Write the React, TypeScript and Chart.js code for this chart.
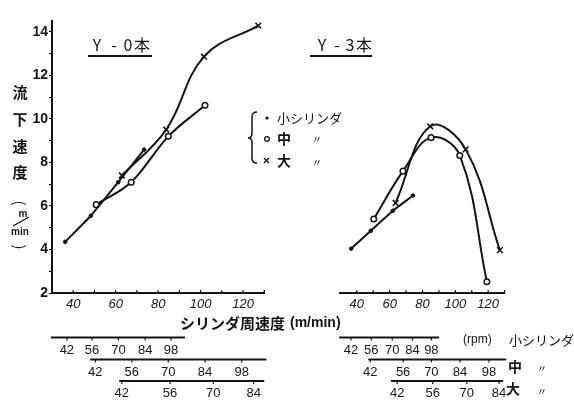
import React, { useEffect, useRef } from 'react';
import { Chart, registerables } from 'chart.js';
Chart.register(...registerables);

// ---- axes ----
const speedMin = 30;
const speedMax = 130;
const flowMin = 2;
const flowMax = 14.5;
const speedLabelValues = [40, 60, 80, 100, 120];
const flowTickValues = [2, 3, 4, 5, 6, 7, 8, 9, 10, 11, 12, 13, 14];
const flowLabelValues = [2, 4, 6, 8, 10, 12, 14];

// ---- Y-0本 panel (m/min -> m/min) ----
const y0SmallSpeed = [36.2, 48.3, 61.2, 73.4];
const y0SmallFlow = [4.35, 5.55, 7.09, 8.59];
const y0MediumSpeed = [50.8, 67.3, 84.8, 102.1];
const y0MediumFlow = [6.06, 7.09, 9.2, 10.63];
const y0LargeSpeed = [62.9, 83.8, 101.6, 127.2];
const y0LargeFlow = [7.4, 9.51, 12.86, 14.29];

// ---- Y-3本 panel ----
const y3SmallSpeed = [36.6, 48.5, 61.9, 74.2];
const y3SmallFlow = [4.04, 4.86, 5.78, 6.48];
const y3MediumSpeed = [50.3, 68.1, 85.2, 102.7, 119.2];
const y3MediumFlow = [5.4, 7.6, 9.14, 8.32, 2.52];
const y3LargeSpeed = [63.6, 84.7, 106.3, 127.1];
const y3LargeFlow = [6.14, 9.66, 8.6, 3.97];

// ---- rpm scales (labels and their position on the speed axis) ----
const rpmFive = ['42', '56', '70', '84', '98'];
const rpmFour = ['42', '56', '70', '84'];
const y0SmallRpmAt = [37.0, 48.8, 61.3, 73.9, 86.1];
const y0SmallRpmLine = [29.5, 92.7];
const y0MediumRpmAt = [50.4, 67.6, 84.8, 102.1, 119.4];
const y0MediumRpmLine = [48.0, 131];
const y0LargeRpmAt = [62.9, 85.6, 106.0, 125.0];
const y0LargeRpmLine = [61.7, 130];
const y3SmallRpmAt = [36.4, 48.8, 61.6, 73.9, 85.4];
const y3SmallRpmLine = [29.2, 90.1];
const y3MediumRpmAt = [48.2, 68.2, 85.4, 102.9, 120.5];
const y3MediumRpmLine = [46.9, 131];
const y3LargeRpmAt = [64.6, 86.2, 107.0, 126.6];
const y3LargeRpmLine = [60.8, 129.1];

const INK = '#151515';
const CJK = '"Noto Sans CJK JP", "Noto Sans", sans-serif';
const NUM = '"Liberation Sans", Arial, sans-serif';

const pts = (xs: number[], ys: number[]) => xs.map((x, i) => ({ x, y: ys[i] }));

function seriesSet(sx: number[], sy: number[], mx: number[], my: number[], lx: number[], ly: number[], tens: number[]) {
  return [
    {
      label: '小シリンダ', data: pts(sx, sy), borderColor: INK, backgroundColor: INK,
      borderWidth: 2, pointStyle: 'circle', pointRadius: 1.8, pointBorderWidth: 1, tension: tens[0],
    },
    {
      label: '中', data: pts(mx, my), borderColor: INK, backgroundColor: '#fff',
      borderWidth: 2, pointStyle: 'circle', pointRadius: 2.8, pointBorderWidth: 1.5, tension: tens[1],
    },
    {
      label: '大', data: pts(lx, ly), borderColor: INK, backgroundColor: INK,
      borderWidth: 2, pointStyle: 'crossRot', pointRadius: 4, pointBorderWidth: 1.6, tension: tens[2],
    },
  ];
}

type Row = { line: number[]; at: number[]; labels: string[]; y: number };

function drawRows(ctx: CanvasRenderingContext2D, xs: any, rows: Row[]) {
  ctx.strokeStyle = INK;
  ctx.fillStyle = INK;
  ctx.font = `13px ${NUM}`;
  ctx.textAlign = 'center';
  ctx.textBaseline = 'middle';
  rows.forEach((r) => {
    ctx.lineWidth = 2;
    ctx.beginPath();
    ctx.moveTo(xs.getPixelForValue(r.line[0]), r.y);
    ctx.lineTo(xs.getPixelForValue(r.line[1]), r.y);
    ctx.stroke();
    ctx.lineWidth = 1.2;
    r.at.forEach((v, i) => {
      const px = xs.getPixelForValue(v);
      ctx.beginPath();
      ctx.moveTo(px, r.y);
      ctx.lineTo(px, r.y + 3);
      ctx.stroke();
      ctx.fillText(r.labels[i], px, r.y + 12.5);
    });
  });
}

function drawUpTicks(ctx: CanvasRenderingContext2D, xs: any) {
  ctx.strokeStyle = INK;
  ctx.lineWidth = 1.2;
  xs.ticks.forEach((t: any) => {
    if (t.value <= speedMin) return;
    const px = xs.getPixelForValue(t.value);
    ctx.beginPath();
    ctx.moveTo(px, xs.top);
    ctx.lineTo(px, xs.top - 3);
    ctx.stroke();
  });
}

function drawTitle(ctx: CanvasRenderingContext2D, parts: [string, number][], ul: number[]) {
  ctx.fillStyle = INK;
  ctx.textAlign = 'center';
  ctx.textBaseline = 'middle';
  ctx.font = `16px ${CJK}`;
  parts.forEach(([t, x]) => ctx.fillText(t, x, 45));
  ctx.strokeStyle = INK;
  ctx.lineWidth = 2;
  ctx.beginPath();
  ctx.moveTo(ul[0], 56);
  ctx.lineTo(ul[1], 56);
  ctx.stroke();
}

const leftDecor = {
  id: 'leftDecor',
  afterDraw(chart: any) {
    const ctx: CanvasRenderingContext2D = chart.ctx;
    const xs = chart.scales.x;
    ctx.save();
    drawUpTicks(ctx, xs);
    drawTitle(ctx, [['Y', 97], ['-', 114], ['0', 128], ['本', 142]], [88, 152]);
    // vertical y title
    ctx.fillStyle = INK;
    ctx.textAlign = 'center';
    ctx.textBaseline = 'middle';
    ctx.font = `bold 15px ${CJK}`;
    [['流', 92], ['下', 119], ['速', 146], ['度', 172]].forEach(([t, y]) => ctx.fillText(t as string, 20, y as number));
    ctx.font = `15px ${CJK}`;
    ctx.save();
    ctx.translate(20, 203);
    ctx.rotate(Math.PI / 2);
    ctx.fillText('(', 0, 0);
    ctx.restore();
    ctx.save();
    ctx.translate(20, 247);
    ctx.rotate(Math.PI / 2);
    ctx.fillText(')', 0, 0);
    ctx.restore();
    ctx.font = `bold 10px ${NUM}`;
    ctx.fillText('m', 23, 214);
    ctx.fillText('min', 20, 232);
    ctx.strokeStyle = INK;
    ctx.lineWidth = 1.3;
    ctx.beginPath();
    ctx.moveTo(13, 226);
    ctx.lineTo(29, 217);
    ctx.stroke();
    drawRows(ctx, xs, [
      { line: y0SmallRpmLine, at: y0SmallRpmAt, labels: rpmFive, y: 337.5 },
      { line: y0MediumRpmLine, at: y0MediumRpmAt, labels: rpmFive, y: 359.5 },
      { line: y0LargeRpmLine, at: y0LargeRpmAt, labels: rpmFour, y: 381 },
    ]);
    ctx.restore();
  },
};

const rightDecor = {
  id: 'rightDecor',
  afterDraw(chart: any) {
    const ctx: CanvasRenderingContext2D = chart.ctx;
    const xs = chart.scales.x;
    ctx.save();
    drawUpTicks(ctx, xs);
    drawTitle(ctx, [['Y', 322], ['-', 337], ['3', 350], ['本', 364]], [310, 372]);
    // legend brace
    ctx.strokeStyle = INK;
    ctx.lineWidth = 1.5;
    ctx.beginPath();
    ctx.moveTo(257, 112);
    ctx.quadraticCurveTo(252, 112, 252, 117);
    ctx.lineTo(252, 133);
    ctx.quadraticCurveTo(252, 138, 248, 138);
    ctx.quadraticCurveTo(252, 138, 252, 143);
    ctx.lineTo(252, 158);
    ctx.quadraticCurveTo(252, 163, 257, 163);
    ctx.stroke();
    // legend markers
    ctx.fillStyle = INK;
    ctx.beginPath();
    ctx.arc(267, 118, 1.6, 0, Math.PI * 2);
    ctx.fill();
    ctx.lineWidth = 1.3;
    ctx.beginPath();
    ctx.arc(267, 139, 2.4, 0, Math.PI * 2);
    ctx.stroke();
    ctx.beginPath();
    ctx.moveTo(264, 158);
    ctx.lineTo(269, 163);
    ctx.moveTo(269, 158);
    ctx.lineTo(264, 163);
    ctx.stroke();
    ctx.textAlign = 'left';
    ctx.textBaseline = 'middle';
    ctx.font = `13px ${CJK}`;
    ctx.fillText('小シリンダ', 277, 118);
    ctx.font = `bold 14px ${CJK}`;
    ctx.fillText('中', 277, 139);
    ctx.fillText('大', 277, 161);
    ctx.font = `10px ${CJK}`;
    ctx.fillText('〃', 312, 139);
    ctx.fillText('〃', 312, 162);
    // x axis title
    ctx.textAlign = 'left';
    ctx.font = `bold 15px ${CJK}`;
    ctx.fillText('シリンダ周速度', 180, 323);
    ctx.font = `bold 14px ${NUM}`;
    ctx.fillText('(m/min)', 290, 323);
    drawRows(ctx, xs, [
      { line: y3SmallRpmLine, at: y3SmallRpmAt, labels: rpmFive, y: 337.5 },
      { line: y3MediumRpmLine, at: y3MediumRpmAt, labels: rpmFive, y: 359.5 },
      { line: y3LargeRpmLine, at: y3LargeRpmAt, labels: rpmFour, y: 381 },
    ]);
    ctx.fillStyle = INK;
    ctx.textAlign = 'left';
    ctx.textBaseline = 'middle';
    ctx.font = `12px ${NUM}`;
    ctx.fillText('(rpm)', 463, 340);
    ctx.font = `13px ${CJK}`;
    ctx.fillText('小シリンダ', 509, 340);
    ctx.font = `bold 14px ${CJK}`;
    ctx.fillText('中', 508, 367);
    ctx.fillText('大', 506, 389);
    ctx.font = `10px ${CJK}`;
    ctx.fillText('〃', 537, 368);
    ctx.fillText('〃', 537, 391);
    ctx.restore();
  },
};

function makeOptions(showY: boolean, padLeft: number, padRight: number): any {
  return {
    responsive: false,
    animation: false,
    devicePixelRatio: 1,
    layout: { padding: { left: padLeft, right: padRight, top: 21, bottom: 87 } },
    plugins: { legend: { display: false }, tooltip: { enabled: false }, title: { display: false } },
    scales: {
      x: {
        type: 'linear',
        min: speedMin,
        max: speedMax,
        afterFit: (s: any) => { s.height = 22; },
        border: { display: true, color: INK, width: 2 },
        grid: { display: true, drawOnChartArea: false, drawTicks: false, color: INK },
        ticks: {
          stepSize: 10,
          autoSkip: false,
          maxRotation: 0,
          padding: 4,
          color: INK,
          font: { family: NUM, size: 13, style: 'italic' },
          callback: (v: number) => (speedLabelValues.includes(v) ? String(v) : ''),
        },
      },
      y: {
        type: 'linear',
        display: showY,
        min: flowMin,
        max: flowMax,
        afterBuildTicks: (s: any) => { s.ticks = flowTickValues.map((value) => ({ value })); },
        afterFit: (s: any) => { s.width = 52; },
        border: { display: true, color: INK, width: 2 },
        grid: { display: true, drawOnChartArea: false, drawTicks: true, tickLength: 3, color: INK },
        ticks: {
          autoSkip: false,
          padding: 1,
          color: INK,
          font: { family: NUM, size: 14, weight: 'bold' },
          callback: (v: number) => (flowLabelValues.includes(v) ? String(v) : ''),
        },
      },
    },
  };
}

export default function App() {
  const leftRef = useRef<HTMLCanvasElement>(null);
  const rightRef = useRef<HTMLCanvasElement>(null);

  useEffect(() => {
    const left = new Chart(leftRef.current as HTMLCanvasElement, {
      type: 'line',
      data: { datasets: seriesSet(y0SmallSpeed, y0SmallFlow, y0MediumSpeed, y0MediumFlow, y0LargeSpeed, y0LargeFlow, [0.1, 0.35, 0.4]) as any },
      options: makeOptions(true, 0, 309.75),
      plugins: [leftDecor],
    } as any);
    const right = new Chart(rightRef.current as HTMLCanvasElement, {
      type: 'line',
      data: { datasets: seriesSet(y3SmallSpeed, y3SmallFlow, y3MediumSpeed, y3MediumFlow, y3LargeSpeed, y3LargeFlow, [0.05, 0.4, 0.4]) as any },
      options: makeOptions(false, 288.4, 69.4),
      plugins: [rightDecor],
    } as any);
    return () => {
      left.destroy();
      right.destroy();
    };
  }, []);

  const canvasStyle: React.CSSProperties = { position: 'absolute', left: 0, top: 0, width: 574, height: 402 };
  return (
    <div style={{ position: 'fixed', left: 0, top: 0, width: 574, height: 402, background: '#fff', overflow: 'hidden' }}>
      <canvas ref={leftRef} width={574} height={402} style={canvasStyle} />
      <canvas ref={rightRef} width={574} height={402} style={canvasStyle} />
    </div>
  );
}
